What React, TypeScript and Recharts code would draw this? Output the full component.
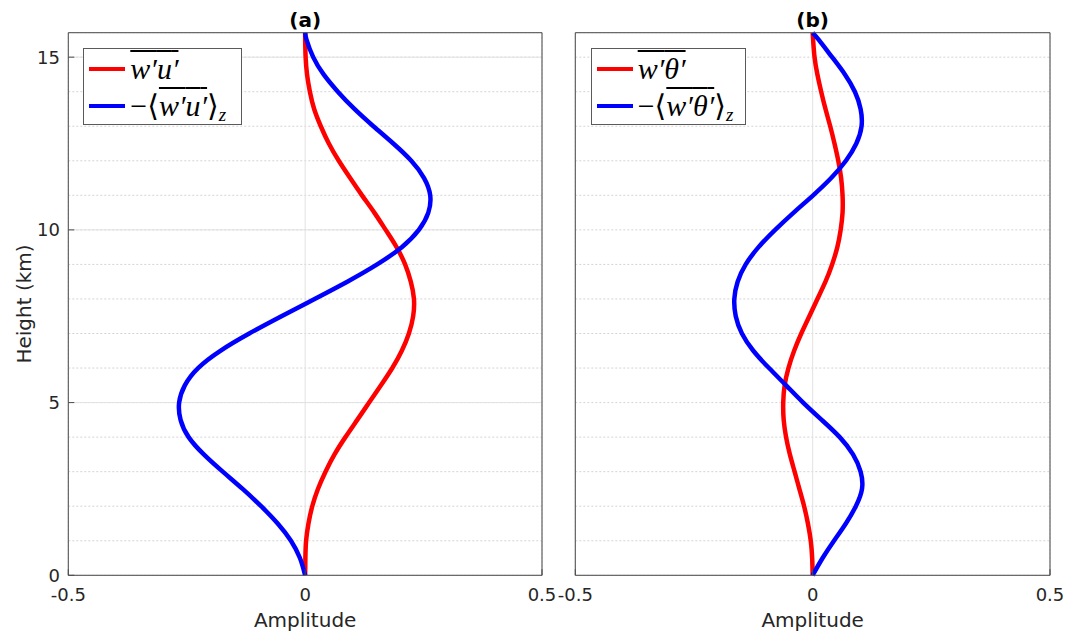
import React from 'react';
import { LineChart, Line, XAxis, YAxis, CartesianGrid, Legend, Label } from 'recharts';

const HEIGHTS = [
  0, 0.5, 1, 1.5, 2, 2.5, 3, 3.5, 4, 4.5, 5, 5.5, 6, 6.5, 7, 7.5, 8,
  8.5, 9, 9.5, 10, 10.5, 11, 11.5, 12, 12.5, 13, 13.5, 14, 14.5, 15, 15.5, 15.708,
];

// panel (a): momentum flux and its convergence
const WU_FLUX = [
  0, 0.0005, 0.002, 0.007, 0.015, 0.027, 0.043, 0.062, 0.085, 0.11, 0.135, 0.16, 0.184, 0.204, 0.219, 0.228, 0.2297,
  0.223, 0.211, 0.193, 0.17, 0.146, 0.12, 0.095, 0.071, 0.05, 0.033, 0.019, 0.01, 0.004, 0.001, 0.0001, 0,
];
const WU_CONV = [
  0, -0.011, -0.03, -0.058, -0.093, -0.132, -0.174, -0.214, -0.246, -0.263, -0.266, -0.254, -0.226, -0.179, -0.118, -0.05, 0.02,
  0.089, 0.152, 0.204, 0.24, 0.26, 0.264, 0.251, 0.224, 0.186, 0.144, 0.104, 0.069, 0.039, 0.017, 0.003, 0,
];

// panel (b): heat flux and its convergence
const WT_FLUX = [
  0, -0.001, -0.004, -0.01, -0.018, -0.028, -0.038, -0.048, -0.056, -0.061, -0.062, -0.059, -0.051, -0.039, -0.024, -0.007, 0.01,
  0.027, 0.041, 0.052, 0.059, 0.063, 0.063, 0.06, 0.054, 0.046, 0.037, 0.027, 0.018, 0.01, 0.004, 0.001, 0,
];
const WT_CONV = [
  0, 0.021, 0.045, 0.07, 0.091, 0.104, 0.101, 0.085, 0.057, 0.019, -0.02, -0.056, -0.092, -0.125, -0.149, -0.162, -0.165,
  -0.158, -0.141, -0.114, -0.079, -0.04, 0.001, 0.039, 0.07, 0.092, 0.103, 0.101, 0.089, 0.068, 0.041, 0.013, 0,
];

const X_TICKS = [-0.5, 0, 0.5];
const X_MINOR = [-0.5, -0.4, -0.3, -0.2, -0.1, 0, 0.1, 0.2, 0.3, 0.4, 0.5];
const Y_TICKS = [0, 5, 10, 15];
const Y_MINOR = [0, 1, 2, 3, 4, 5, 6, 7, 8, 9, 10, 11, 12, 13, 14, 15];
const X_DOMAIN: [number, number] = [-0.5, 0.5];
const Y_DOMAIN: [number, number] = [0, 15.708];

const rowsA = HEIGHTS.map((z, i) => ({ z, flux: WU_FLUX[i], conv: WU_CONV[i] }));
const rowsB = HEIGHTS.map((z, i) => ({ z, flux: WT_FLUX[i], conv: WT_CONV[i] }));

const AXIS = '#4d4d4d';
const TICK_STYLE = { fontFamily: 'DejaVu Sans', fontSize: 18, fill: '#262626' };
const LABEL_STYLE = { fontFamily: 'DejaVu Sans', fontSize: 20, fill: '#262626' };
const MATH_FONT = '"Liberation Serif", "DejaVu Serif", serif';

const Term = ({ sym }: { sym: string }) => (
  <span style={{ fontStyle: 'italic', textDecoration: 'overline', textDecorationThickness: '1.5px' }}>
    w′{sym}′
  </span>
);

const Sample = ({ color }: { color: string }) => (
  <span style={{ display: 'inline-block', width: 36, height: 4, background: color, marginRight: 5 }} />
);

const makeLegend = (sym: string, width: number) => () => (
  <div
    style={{
      width,
      height: 77,
      boxSizing: 'border-box',
      border: '1px solid #5a5a5a',
      background: '#fff',
      paddingLeft: 5,
      fontFamily: MATH_FONT,
      fontSize: 30,
      color: '#000',
    }}
  >
    <div style={{ height: 37, marginTop: 1, display: 'flex', alignItems: 'center' }}>
      <Sample color="#ff0000" />
      <Term sym={sym} />
    </div>
    <div style={{ height: 37, display: 'flex', alignItems: 'center', whiteSpace: 'nowrap' }}>
      <Sample color="#0000ff" />
      <span>−⟨</span>
      <Term sym={sym} />
      <span>⟩</span>
      <span style={{ fontStyle: 'italic', fontSize: 19, position: 'relative', top: 9 }}>z</span>
    </div>
  </div>
);

type PanelProps = {
  title: string;
  rows: { z: number; flux: number; conv: number }[];
  left: number;
  width: number;
  yAxisWidth: number;
  marginLeft: number;
  showY: boolean;
  sym: string;
  legendLeft: number;
  legendWidth: number;
};

const Panel = ({ title, rows, left, width, yAxisWidth, marginLeft, showY, sym, legendLeft, legendWidth }: PanelProps) => (
  <div style={{ position: 'absolute', left, top: 0 }}>
    <LineChart
      layout="vertical"
      width={width}
      height={635}
      data={rows}
      margin={{ top: 22.7, right: 8, bottom: 9.7, left: marginLeft }}
    >
      {/* minor grid */}
      <XAxis xAxisId="minor" type="number" hide domain={X_DOMAIN} ticks={X_MINOR} interval={0} />
      <YAxis yAxisId="minor" type="number" dataKey="z" hide reversed domain={Y_DOMAIN} ticks={Y_MINOR} interval={0} />
      <CartesianGrid xAxisId="minor" yAxisId="minor" stroke="#d4d4d4" strokeDasharray="2 2" />
      <CartesianGrid stroke="#e2e2e2" />

      <XAxis
        type="number"
        domain={X_DOMAIN}
        ticks={X_TICKS}
        interval={0}
        height={50}
        tick={TICK_STYLE}
        tickSize={-6}
        tickMargin={19}
        tickLine={{ stroke: AXIS }}
        axisLine={{ stroke: AXIS }}
      >
        <Label value="Amplitude" position="insideBottom" offset={-1.4} style={LABEL_STYLE} />
      </XAxis>
      <XAxis
        xAxisId="top"
        orientation="top"
        type="number"
        domain={X_DOMAIN}
        ticks={X_TICKS}
        interval={0}
        height={10}
        tick={false}
        tickSize={-6}
        tickLine={{ stroke: AXIS }}
        axisLine={{ stroke: AXIS }}
      >
        <Label
          value={title}
          position="top"
          offset={-4}
          style={{ fontFamily: 'DejaVu Sans', fontSize: 20, fontWeight: 'bold', fill: '#000' }}
        />
      </XAxis>
      <YAxis
        type="number"
        dataKey="z"
        reversed
        domain={Y_DOMAIN}
        ticks={Y_TICKS}
        interval={0}
        width={yAxisWidth}
        tick={showY ? TICK_STYLE : false}
        tickSize={-6}
        tickMargin={14.3}
        tickLine={{ stroke: AXIS }}
        axisLine={{ stroke: AXIS }}
      >
        {showY && (
          <Label
            value="Height (km)"
            angle={-90}
            position="insideLeft"
            offset={15.2}
            style={{ ...LABEL_STYLE, textAnchor: 'middle' }}
          />
        )}
      </YAxis>
      <YAxis
        yAxisId="right"
        orientation="right"
        type="number"
        dataKey="z"
        reversed
        domain={Y_DOMAIN}
        ticks={Y_TICKS}
        interval={0}
        width={10}
        tick={false}
        tickSize={-6}
        tickLine={{ stroke: AXIS }}
        axisLine={{ stroke: AXIS }}
      />

      <Line
        type="natural"
        dataKey="flux"
        stroke="#ff0000"
        strokeWidth={4.5}
        dot={false}
        isAnimationActive={false}
      />
      <Line
        type="natural"
        dataKey="conv"
        stroke="#0000ff"
        strokeWidth={4.5}
        dot={false}
        isAnimationActive={false}
      />
      <Legend
        layout="horizontal"
        verticalAlign="middle"
        align="center"
        wrapperStyle={{ left: legendLeft, top: 48.3, width: legendWidth, height: 77 }}
        content={makeLegend(sym, legendWidth)}
      />
    </LineChart>
  </div>
);

export default function App() {
  return (
    <div style={{ position: 'absolute', left: 0, top: 0, width: 1068, height: 635, background: '#fff' }}>
      <Panel
        title="(a)"
        rows={rowsA}
        left={0}
        width={560}
        yAxisWidth={60}
        marginLeft={8.3}
        showY
        sym="u"
        legendLeft={83.3}
        legendWidth={158.4}
      />
      <Panel
        title="(b)"
        rows={rowsB}
        left={540}
        width={528}
        yAxisWidth={10}
        marginLeft={25.3}
        showY={false}
        sym="θ"
        legendLeft={50.7}
        legendWidth={155.3}
      />
    </div>
  );
}
